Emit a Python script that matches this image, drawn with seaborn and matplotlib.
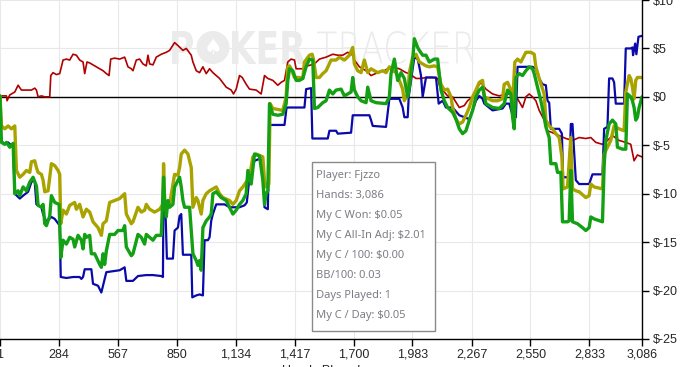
import matplotlib
matplotlib.use("Agg")
import pandas as pd
import matplotlib.pyplot as plt
import seaborn as sns
from matplotlib.textpath import TextPath
from matplotlib.patches import PathPatch, Circle, Rectangle
from matplotlib.font_manager import FontProperties
from matplotlib.transforms import Affine2D, IdentityTransform

# -----------------------------
# Data (hand number, cumulative $)
# -----------------------------
x_ticks = [1, 284, 567, 850, 1134, 1417, 1700, 1983, 2267, 2550, 2833, 3086]
y_ticks = [-25, -20, -15, -10, -5, 0, 5, 10]

non_showdown = [
    (1, 0.1), (32, 0.1), (35, -0.4), (48, 0.2), (72, 0.5), (88, 1.2), (104, 0.7), (128, 0.7),
    (152, 0.7), (168, 0.9), (176, 0.7), (184, 0.0), (200, 0.1), (216, 0.0), (240, 0.0), (245, 2.2),
    (256, 2.5), (272, 2.3), (288, 2.4), (304, 3.8), (320, 3.9), (336, 3.8), (352, 4.4), (368, 4.3),
    (384, 3.8), (400, 3.6), (408, 2.4), (419, 3.6), (432, 3.5), (464, 3.1), (496, 2.7), (512, 2.4),
    (525, 2.2), (533, 3.9), (552, 4.0), (576, 3.9), (600, 4.1), (616, 3.1), (632, 2.9), (640, 2.7),
    (656, 3.8), (672, 3.9), (688, 3.4), (704, 3.2), (712, 4.3), (720, 3.4), (736, 3.3), (752, 4.1),
    (776, 4.4), (800, 4.6), (816, 4.8), (840, 5.6), (856, 5.3), (880, 4.8), (896, 5.0), (920, 4.3),
    (928, 3.6), (944, 2.7), (960, 2.5), (976, 3.1), (992, 2.4), (1008, 2.9), (1024, 2.5), (1056, 1.9),
    (1088, 1.0), (1112, 0.7), (1123, 0.3), (1136, 0.8), (1152, 2.2), (1165, 2.0), (1184, 1.3),
    (1200, 0.8), (1232, 0.7), (1256, 0.3), (1272, 2.2), (1288, 1.9), (1312, 1.7), (1336, 1.2),
    (1352, 1.5), (1368, 1.7), (1384, 3.6), (1400, 3.9), (1416, 3.8), (1424, 2.9), (1456, 2.9),
    (1480, 3.2), (1512, 3.4), (1536, 3.9), (1568, 4.1), (1600, 4.4), (1624, 4.3), (1648, 4.3),
    (1672, 4.6), (1696, 4.3), (1704, 3.8), (1728, 3.1), (1760, 2.7), (1784, 2.2), (1816, 2.5),
    (1848, 2.7), (1880, 3.1), (1920, 2.9), (1952, 2.5), (1968, 2.4), (2000, 1.9), (2024, 1.9),
    (2048, 2.0), (2080, 2.0), (2104, 1.9), (2112, 1.2), (2128, 0.7), (2152, 0.1), (2176, 0.0),
    (2208, -1.1), (2232, -0.9), (2248, -0.4), (2272, 0.0), (2296, 1.0), (2312, 1.5), (2336, 0.8),
    (2368, 0.3), (2400, 0.1), (2432, 0.3), (2464, 0.3), (2488, -0.2), (2512, -1.1), (2528, 0.0),
    (2544, 0.3), (2560, 0.0), (2576, -0.4), (2592, -1.4), (2616, -2.4), (2632, -3.5), (2656, -3.7),
    (2688, -4.0), (2720, -4.3), (2752, -4.5), (2784, -4.2), (2816, -4.3), (2840, -4.2), (2864, -4.7),
    (2896, -4.9), (2920, -4.5), (2944, -4.0), (2976, -4.5), (3008, -4.7), (3032, -4.9), (3048, -6.6),
    (3064, -6.0), (3086, -6.2),
]

showdown = [
    (1, 0.0), (5, -4.5), (24, -4.9), (40, -4.7), (64, -5.2), (72, -10.0), (96, -10.5), (112, -10.2),
    (136, -9.8), (152, -8.8), (160, -8.6), (168, -8.8), (176, -11.1), (200, -11.4), (208, -12.1),
    (224, -12.9), (248, -12.4), (264, -12.6), (288, -13.3), (293, -18.6), (320, -18.7), (352, -18.6),
    (384, -18.6), (392, -18.8), (400, -18.6), (408, -17.8), (440, -17.8), (448, -19.3), (472, -19.5),
    (488, -20.2), (496, -19.5), (512, -18.1), (544, -18.0), (576, -17.9), (600, -17.6), (608, -19.0),
    (640, -19.0), (664, -18.5), (704, -18.4), (736, -18.4), (776, -18.5), (784, -18.6), (787, -8.3),
    (797, -12.4), (803, -16.7), (832, -16.7), (840, -13.8), (856, -13.5), (864, -12.3), (872, -12.1),
    (880, -16.3), (920, -16.3), (925, -20.7), (944, -20.5), (960, -20.4), (976, -20.5), (984, -14.8),
    (1000, -14.8), (1008, -14.5), (1016, -12.8), (1024, -12.1), (1040, -11.1), (1080, -11.1),
    (1104, -11.4), (1152, -11.4), (1176, -11.2), (1187, -10.9), (1200, -8.3), (1224, -6.6),
    (1248, -6.4), (1264, -6.6), (1272, -11.4), (1288, -11.6), (1296, -2.9), (1368, -2.9),
    (1378, -1.1), (1464, -1.1), (1472, 0.8), (1496, 0.9), (1502, -4.3), (1576, -4.3), (1584, -3.5),
    (1616, -3.5), (1624, -3.8), (1688, -3.7), (1696, -1.9), (1776, -1.9), (1784, -2.4), (1792, -3.0),
    (1856, -3.1), (1872, -0.2), (1920, -0.2), (1936, -1.1), (1944, -2.1), (1960, -2.1), (1965, 0.0),
    (1992, 4.1), (2008, 3.9), (2016, 3.1), (2024, 2.2), (2032, 0.0), (2048, 2.0), (2096, 2.0),
    (2109, -0.7), (2128, -0.4), (2144, -1.1), (2176, -1.1), (2208, -1.9), (2256, -2.3), (2272, -1.4),
    (2288, -0.4), (2304, 0.1), (2320, -0.2), (2328, -0.7), (2368, -1.4), (2416, -1.2), (2432, -0.7),
    (2448, -0.7), (2464, -1.9), (2480, -2.1), (2488, 3.1), (2560, 3.1), (2576, 2.9), (2592, 1.9),
    (2608, 1.3), (2624, 1.2), (2632, -0.4), (2640, -0.6), (2648, -3.3), (2688, -3.3), (2701, -3.8),
    (2707, -8.3), (2736, -8.3), (2744, -2.8), (2752, -2.8), (2768, -8.6), (2784, -9.0), (2832, -9.0),
    (2848, -8.0), (2896, -8.0), (2904, -3.3), (2920, -3.1), (2928, 1.9), (2944, 1.9), (2952, 1.5),
    (2960, -0.7), (3000, -0.7), (3008, 5.0), (3032, 5.0), (3040, 5.1), (3043, 4.3), (3053, 5.5),
    (3059, 4.4), (3069, 6.2), (3086, 6.3),
]

allin_adj = [
    (1, 0.1), (8, -3.0), (24, -3.3), (40, -3.0), (56, -3.3), (72, -3.0), (80, -7.6), (96, -8.3),
    (112, -8.0), (128, -7.6), (144, -7.8), (152, -6.7), (168, -6.6), (176, -7.3), (184, -7.8),
    (200, -8.0), (208, -8.6), (216, -9.8), (232, -9.7), (248, -6.9), (264, -7.1), (280, -7.6),
    (288, -8.0), (293, -13.1), (304, -11.7), (320, -12.1), (336, -11.2), (360, -10.9), (368, -11.6),
    (384, -11.1), (400, -12.4), (416, -11.6), (432, -11.9), (448, -12.9), (472, -13.5), (488, -14.3),
    (496, -13.1), (512, -12.8), (528, -10.9), (552, -10.7), (576, -10.5), (600, -10.0), (608, -12.1),
    (632, -13.1), (640, -12.9), (664, -11.4), (680, -11.9), (696, -11.7), (704, -11.1), (720, -11.6),
    (744, -11.9), (768, -11.6), (784, -11.1), (787, -6.9), (792, -10.7), (800, -11.4), (816, -11.1),
    (832, -9.0), (840, -8.0), (856, -8.1), (864, -7.3), (872, -5.9), (888, -5.5), (904, -5.9),
    (920, -7.3), (928, -11.4), (944, -10.4), (952, -10.7), (968, -12.1), (976, -10.7), (992, -10.0),
    (1008, -9.7), (1024, -9.5), (1040, -9.3), (1056, -10.0), (1072, -10.4), (1104, -10.7),
    (1120, -11.1), (1136, -10.7), (1152, -9.7), (1168, -9.3), (1184, -8.8), (1200, -8.3),
    (1216, -6.2), (1232, -5.9), (1264, -6.2), (1272, -8.6), (1280, -9.3), (1293, -9.0), (1299, -0.7),
    (1312, -1.2), (1360, -1.4), (1376, 0.0), (1384, 3.1), (1392, 3.2), (1400, 2.9), (1416, 2.0),
    (1440, 2.0), (1456, 1.9), (1464, 3.6), (1488, 4.3), (1501, 4.4), (1507, 3.9), (1520, 2.0),
    (1536, 2.0), (1552, 2.4), (1568, 2.7), (1592, 3.8), (1616, 3.8), (1632, 4.1), (1656, 3.8),
    (1680, 4.3), (1696, 5.1), (1704, 3.4), (1720, 2.7), (1736, 2.5), (1752, 3.8), (1768, 2.5),
    (1784, 2.9), (1816, 2.5), (1840, 2.7), (1856, 2.5), (1872, 3.1), (1888, 2.7), (1904, 2.5),
    (1920, 1.7), (1936, 0.8), (1944, -0.4), (1960, 0.3), (1968, 2.5), (1984, 4.1), (2000, 4.4),
    (2016, 3.6), (2032, 3.4), (2048, 3.2), (2064, 3.1), (2088, 3.2), (2104, 3.1), (2120, 1.3),
    (2136, 0.7), (2152, 0.8), (2168, 0.0), (2176, -1.1), (2192, -2.3), (2208, -2.8), (2224, -2.6),
    (2240, -1.9), (2256, -1.1), (2272, 0.0), (2288, 0.7), (2304, 1.5), (2320, 1.7), (2328, 0.0),
    (2368, -0.4), (2392, -0.4), (2416, -0.2), (2424, 1.3), (2440, 1.5), (2456, 0.7), (2464, -0.7),
    (2475, 3.6), (2488, 3.9), (2504, 3.6), (2528, 4.6), (2552, 4.6), (2568, 4.4), (2576, 3.1),
    (2592, 1.9), (2616, 0.3), (2624, -2.4), (2640, -3.0), (2656, -3.3), (2672, -3.8), (2688, -4.2),
    (2701, -6.2), (2707, -9.5), (2728, -9.3), (2744, -4.2), (2752, -9.5), (2768, -9.7), (2784, -9.8),
    (2816, -10.4), (2832, -10.2), (2840, -9.0), (2856, -9.3), (2896, -9.5), (2904, -5.9), (2920, -5.2),
    (2936, -4.5), (2952, -3.0), (2976, -3.3), (3000, -3.5), (3008, 0.5), (3024, 2.2), (3032, 1.9),
    (3040, 1.0), (3048, -0.2), (3056, 1.7), (3064, 2.0), (3086, 2.0),
]

won = [
    (1, 0.1), (8, -4.7), (24, -4.9), (32, -4.7), (48, -5.2), (64, -4.8), (72, -10.0), (88, -9.7),
    (96, -10.2), (112, -9.3), (128, -9.7), (144, -8.8), (160, -8.3), (176, -9.2), (184, -11.2),
    (200, -11.4), (208, -11.1), (216, -13.1), (224, -13.3), (240, -12.3), (248, -10.2), (264, -10.9),
    (285, -11.1), (293, -16.6), (304, -14.8), (320, -15.2), (336, -14.5), (352, -14.7), (360, -15.5),
    (376, -14.3), (392, -14.8), (400, -15.7), (408, -14.2), (416, -14.5), (432, -14.3), (440, -16.2),
    (456, -16.2), (480, -17.3), (488, -17.6), (496, -16.2), (504, -17.3), (512, -15.9), (528, -14.2),
    (552, -14.2), (568, -13.8), (592, -13.8), (600, -13.3), (608, -15.5), (632, -16.4), (640, -16.2),
    (664, -14.2), (680, -14.5), (696, -15.2), (704, -14.2), (720, -14.5), (736, -14.8), (752, -14.3),
    (776, -14.3), (787, -8.3), (792, -10.7), (800, -12.4), (808, -10.7), (816, -11.4), (832, -11.1),
    (840, -9.3), (864, -8.3), (872, -9.3), (880, -10.7), (888, -11.4), (912, -11.4), (928, -16.2),
    (944, -16.9), (952, -17.4), (960, -16.9), (968, -17.9), (976, -13.5), (992, -12.8), (1008, -12.4),
    (1016, -12.1), (1024, -10.0), (1040, -9.8), (1064, -10.4), (1088, -10.7), (1104, -11.4),
    (1120, -12.1), (1136, -11.7), (1152, -11.1), (1168, -10.7), (1184, -10.0), (1192, -7.6),
    (1208, -9.0), (1224, -5.9), (1248, -6.1), (1264, -8.6), (1272, -11.1), (1280, -10.0),
    (1288, -9.7), (1296, -0.7), (1312, -1.8), (1336, -1.9), (1360, -1.8), (1376, -0.7), (1384, 1.7),
    (1392, 2.9), (1408, 2.7), (1424, 1.7), (1440, 1.7), (1456, 1.9), (1472, 3.1), (1488, 3.9),
    (1504, 3.8), (1512, -1.2), (1528, -1.1), (1552, -0.6), (1568, -0.4), (1584, 0.7), (1600, 0.3),
    (1616, 0.7), (1640, 0.8), (1656, 0.1), (1688, 0.5), (1696, 2.0), (1704, 0.7), (1720, 0.0),
    (1736, -0.4), (1760, -0.6), (1768, 1.0), (1784, -0.4), (1808, -0.6), (1856, -0.7), (1872, 0.0),
    (1880, 2.4), (1896, 3.9), (1912, 1.7), (1928, 2.5), (1944, 1.9), (1960, 0.0), (1968, 1.0),
    (1984, 3.8), (1992, 6.0), (2008, 5.1), (2016, 4.8), (2032, 4.3), (2048, 4.3), (2064, 3.6),
    (2088, 3.9), (2104, 3.9), (2120, 0.7), (2136, -0.4), (2152, -1.1), (2176, -1.6), (2192, -2.3),
    (2208, -3.3), (2224, -3.8), (2240, -3.5), (2256, -2.4), (2272, -1.4), (2288, 0.0), (2304, 0.7),
    (2320, 1.0), (2336, -0.7), (2368, -1.1), (2400, -1.2), (2424, -0.7), (2440, 0.7), (2456, 0.3),
    (2464, -2.1), (2472, -3.3), (2480, 2.0), (2496, 2.4), (2512, 2.2), (2528, 2.7), (2544, 3.1),
    (2560, 2.9), (2568, 2.4), (2584, 1.0), (2600, -0.4), (2616, -2.1), (2624, -3.1), (2640, -4.2),
    (2648, -6.9), (2672, -6.9), (2680, -7.8), (2696, -7.8), (2704, -12.9), (2728, -12.9),
    (2736, -12.8), (2744, -7.6), (2752, -12.9), (2776, -13.1), (2800, -13.5), (2816, -13.8),
    (2832, -13.5), (2840, -12.4), (2856, -12.6), (2896, -12.9), (2904, -7.1), (2912, -4.5),
    (2928, -2.8), (2944, -2.4), (2960, -2.8), (2968, -5.2), (2992, -5.4), (3008, -5.4), (3016, 0.3),
    (3032, 0.0), (3040, -0.4), (3048, -1.1), (3056, -2.4), (3064, -2.1), (3072, -1.1), (3086, 0.0),
]

stats_lines = [
    "Player: Fjzzo",
    "Hands: 3,086",
    "My C Won: $0.05",
    "My C All-In Adj: $2.01",
    "My C / 100: $0.00",
    "BB/100: 0.03",
    "Days Played: 1",
    "My C / Day: $0.05",
]

# -----------------------------
# Plot
# -----------------------------
sns.set_style("whitegrid", {"grid.color": "#e8e8e8", "axes.edgecolor": "black"})
plt.rcParams["font.family"] = ["Liberation Sans", "DejaVu Sans"]

W, H = 681, 367
fig = plt.figure(figsize=(W / 100, H / 100), dpi=100)
ax = fig.add_axes([0, 28 / H, 642 / W, 339 / H])

WM = "#ebebeb"


def fit_text(s, box, weight):
    # draw a watermark word stretched into a pixel box (x0, top, x1, bottom)
    x0, top, x1, bottom = box
    tp = TextPath((0, 0), s, size=40, prop=FontProperties(family="DejaVu Sans", weight=weight))
    ext = tp.get_extents()
    tr = (Affine2D().translate(-ext.x0, -ext.y0)
          .scale((x1 - x0) / ext.width, (bottom - top) / ext.height)
          .translate(x0, H - bottom))
    ax.add_patch(PathPatch(tp, transform=tr, fc=WM, ec="none", zorder=0.6, clip_on=False))


fit_text("P", (172, 31, 193, 64), "bold")
ax.add_patch(Circle((213, H - 47.5), 16.5, transform=IdentityTransform(), fc=WM, ec="none",
                    zorder=0.6, clip_on=False))
ax.text(213, H - 48, "\u2660", transform=IdentityTransform(), color="white", fontsize=15,
        ha="center", va="center", family="DejaVu Sans", zorder=0.7)
fit_text("KER", (232, 31, 305, 64), "bold")
fit_text("TRACKER", (317, 31, 474, 64), "light")

ax.axhline(0, color="black", lw=1, zorder=1.5)

series = [
    (non_showdown, "#b00000", 1.2),
    (showdown, "#0a0aaa", 1.6),
    (allin_adj, "#a9a300", 2.4),
    (won, "#14a014", 2.4),
]
for pts, color, lw in series:
    df = pd.DataFrame(pts, columns=["hand", "value"])
    sns.lineplot(data=df, x="hand", y="value", color=color, linewidth=lw,
                 sort=False, estimator=None, ax=ax)

ax.set_xlim(1, 3086)
ax.set_ylim(-25, 10)
ax.set_xticks(x_ticks)
ax.set_xticklabels([f"{t:,}" for t in x_ticks])
ax.set_yticks(y_ticks)
ax.set_yticklabels([f"${t}" for t in y_ticks])
ax.yaxis.tick_right()
ax.tick_params(axis="y", right=True, left=False, labelright=True, labelleft=False,
               length=5, width=1, color="black", labelsize=9, pad=3)
ax.tick_params(axis="x", bottom=True, length=5, width=1, color="black", labelsize=9, pad=2)
ax.spines["left"].set_visible(False)
ax.spines["top"].set_visible(False)
for side in ["right", "bottom"]:
    ax.spines[side].set_color("black")
    ax.spines[side].set_linewidth(1)
ax.set_xlabel("Hands Played", fontsize=9, labelpad=3)
ax.set_ylabel("")

# stats box
box_l, box_t, box_r, box_b = 311.5, 161.5, 435, 331
fig.add_artist(Rectangle((box_l / W, 1 - box_b / H), (box_r - box_l) / W, (box_b - box_t) / H,
                         transform=fig.transFigure, fc="white", ec="#8a8a8a", lw=1, zorder=5))
for i, line in enumerate(stats_lines):
    fig.text(316.5 / W, 1 - (175.5 + 20 * i) / H, line, fontsize=8, color="#7d7d85",
             family=["Noto Sans", "DejaVu Sans"], va="center", ha="left", zorder=6)

fig.savefig("out.png", dpi=100)
